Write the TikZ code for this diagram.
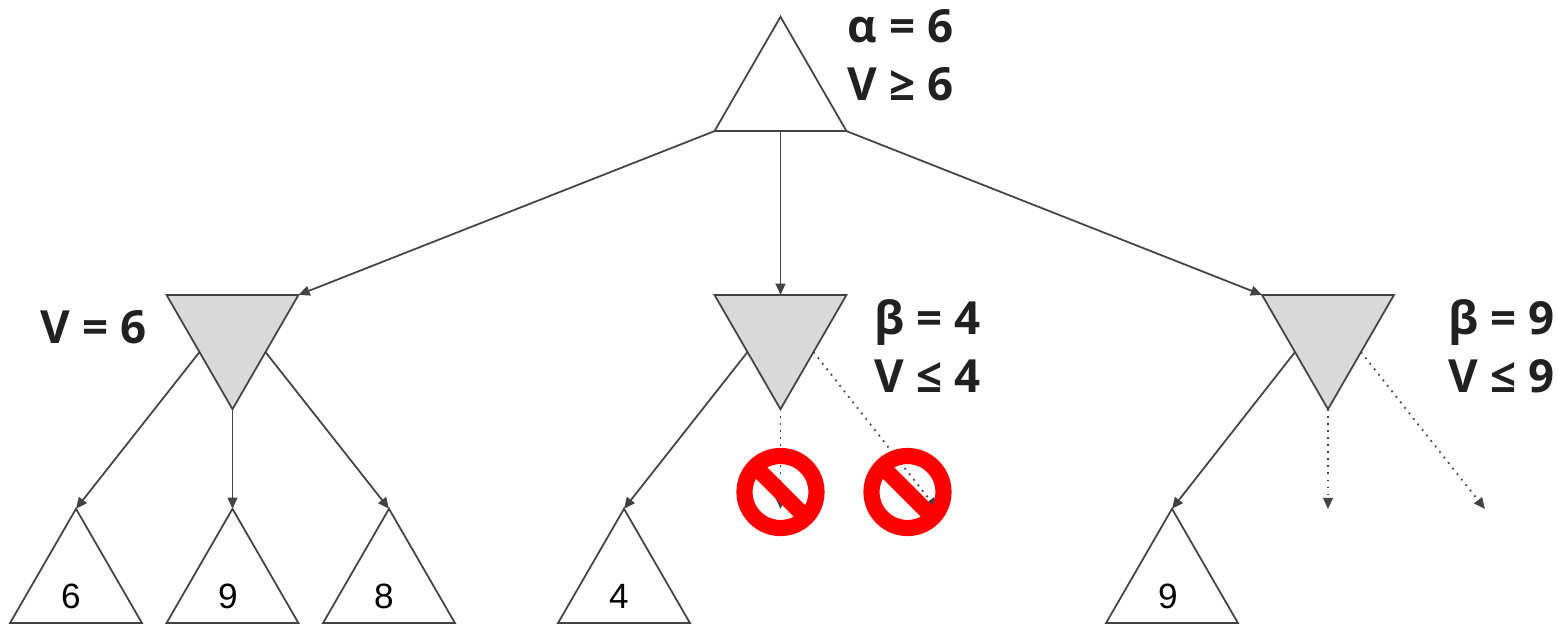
\documentclass[tikz,border=0pt]{standalone}
\usepackage{fontspec}
\setmainfont{Open Sans}
\newfontfamily\leaffont{Liberation Sans}
\usepackage{xcolor}
\usetikzlibrary{arrows.meta,positioning,shapes.geometric,shapes.symbols}
\definecolor{edgegray}{RGB}{67,67,67}
\definecolor{mingray}{RGB}{217,217,217}
\definecolor{labelblack}{RGB}{33,33,33}
\begin{document}
\begin{tikzpicture}[
    tri/.style={regular polygon,regular polygon sides=3,draw=edgegray,
                minimum size=1.524cm,inner sep=0pt,outer sep=0pt,line width=0.5pt},
    maxtri/.style={tri},
    mintri/.style={tri,shape border rotate=180,fill=mingray},
    edge/.style={draw=edgegray,line width=0.5pt,-{Triangle[length=3.2pt,width=2.8pt]}},
    cutedge/.style={edge,dash pattern=on 0.5pt off 1.5pt},
    val/.style={font=\bfseries\fontsize{13}{16.5}\selectfont,text=labelblack,
                align=left,inner sep=0pt},
    leafval/.style={font=\leaffont\fontsize{10}{12}\selectfont,text=black,inner sep=0pt},
    stopsign/.style={shape=forbidden sign,rotate=90,draw=red,line width=4.6pt,
                     minimum size=0.72cm,inner sep=0pt,outer sep=0pt}]

    \useasboundingbox (0,0) rectangle (15.58,6.28);

    \node[maxtri] (root) at (7.805,5.35) {};
    \node[mintri] (minl) at (2.325,2.95) {};
    \node[mintri] (minm) at (7.805,2.95) {};
    \node[mintri] (minr) at (13.28,2.95) {};

    \node[maxtri] (leafa) at (0.76,0.43) {};
    \node[maxtri] (leafb) at (2.325,0.43) {};
    \node[maxtri] (leafc) at (3.89,0.43) {};
    \node[maxtri] (leafd) at (6.24,0.43) {};
    \node[maxtri] (leafe) at (11.72,0.43) {};

    \node[leafval] (numa) at (0.71,0.32) {6};
    \node[leafval] (numb) at (2.28,0.32) {9};
    \node[leafval] (numc) at (3.84,0.32) {8};
    \node[leafval] (numd) at (6.19,0.32) {4};
    \node[leafval] (nume) at (11.68,0.32) {9};

    \coordinate (enda) at (7.805,1.19);
    \coordinate (endb) at (9.37,1.19);
    \coordinate (endc) at (13.28,1.19);
    \coordinate (endd) at (14.85,1.19);

    \draw[edge] (root.corner 2) -- (minl.corner 2);
    \draw[edge] (root.side 2) -- (minm.side 2);
    \draw[edge] (root.corner 3) -- (minr.corner 3);

    \draw[edge] (minl.side 3) -- (leafa.corner 1);
    \draw[edge] (minl.corner 1) -- (leafb.corner 1);
    \draw[edge] (minl.side 1) -- (leafc.corner 1);
    \draw[edge] (minm.side 3) -- (leafd.corner 1);
    \draw[edge] (minr.side 3) -- (leafe.corner 1);

    \draw[cutedge] (minm.corner 1) -- (enda);
    \draw[cutedge] (minm.side 1) -- (endb);
    \draw[cutedge] (minr.corner 1) -- (endc);
    \draw[cutedge] (minr.side 1) -- (endd);

    \node[stopsign] (stopa) at (7.805,1.36) {};
    \node[stopsign] (stopb) at (9.075,1.36) {};

    \node[val,anchor=west] (rootval) at (8.47,5.73) {α = 6\\V ≥ 6};
    \node[val,anchor=west] (lval) at (0.40,3.01) {V = 6};
    \node[val,anchor=west] (mval) at (8.74,2.82) {β = 4\\V ≤ 4};
    \node[val,anchor=west] (rval) at (14.48,2.82) {β = 9\\V ≤ 9};
\end{tikzpicture}
\end{document}
